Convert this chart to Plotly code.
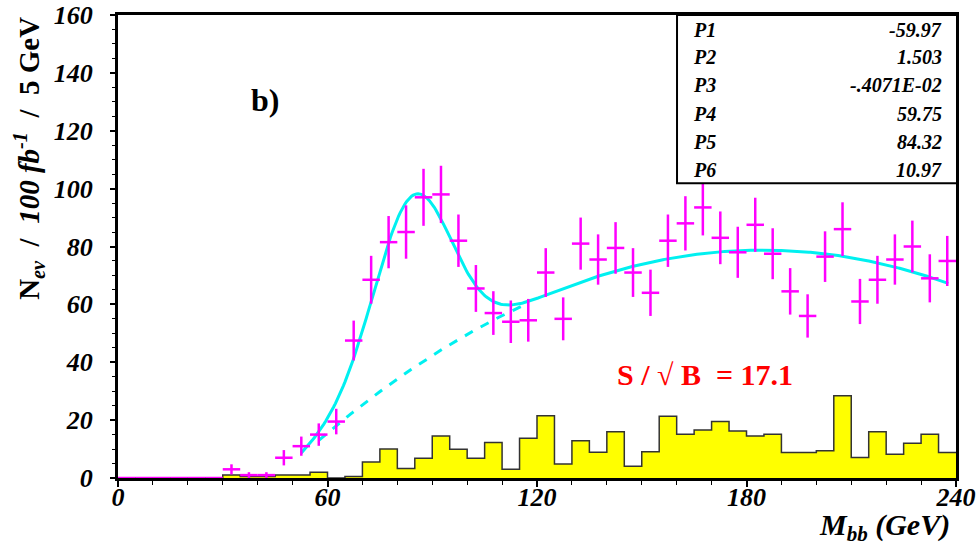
import numpy as np
import plotly.graph_objects as go

# ---------------- data ----------------
bin_centers = [2.5 + 5 * i for i in range(48)]
data_vals = [0, 0, 0, 0, 0, 0, 3, 1, 1, 7, 11, 15, 19.5, 47.5, 68.5, 81.5,
             85, 97, 98, 82, 65.5, 57, 54, 54.5, 71, 55, 81, 75.5, 79.5, 71,
             64, 82, 88, 93.5, 83, 78, 87.5, 77.5, 64.5, 56, 76.5, 86, 61,
             68.5, 75.5, 80, 69, 75]

bin_edges = [5 * i for i in range(49)]
hist_vals = [0, 0, 0, 0, 0, 0, 1, 0.5, 0.5, 1, 1, 2, 0, 0.5, 5.5, 10,
             3.3, 6.8, 14.5, 9.9, 6.8, 12.3, 3, 13.7, 21.5, 4.8, 12.9, 8.9,
             16, 4.1, 9.1, 21.3, 15.1, 16.6, 19.5, 16.2, 14.5, 15.1, 8.8, 8.8,
             9.4, 28.4, 7.1, 16, 8.2, 12, 15.1, 8.8]

x_ticks = [0, 60, 120, 180, 240]
y_ticks = [0, 20, 40, 60, 80, 100, 120, 140, 160]

par_names = ["P1", "P2", "P3", "P4", "P5", "P6"]
par_labels = ["-59.97", "1.503", "-.4071E-02", "59.75", "84.32", "10.97"]
par_values = [-59.97, 1.503, -0.4071e-02, 59.75, 84.32, 10.97]

fit_range = [52.5, 237.8]
bg_range = [57.5, 117.0]

# ---------------- fit functions ----------------
P1, P2, P3, P4, P5, P6 = par_values


def bg(x):
    return P1 + P2 * x + P3 * x ** 2


def full(x):
    return bg(x) + P4 * np.exp(-0.5 * ((x - P5) / P6) ** 2)


xf = np.linspace(fit_range[0], fit_range[1], 400)
xb = np.linspace(bg_range[0], bg_range[1], 200)

SERIF = "Liberation Serif, Times New Roman, serif"
MAG = "#ff00ff"
CYAN = "#00f0f0"

fig = go.Figure()

# histogram (step)
hx = bin_edges
hy = hist_vals + [hist_vals[-1]]
fig.add_trace(go.Scatter(x=hx, y=hy, mode="lines", line_shape="hv",
                         fill="tozeroy", fillcolor="#ffff00",
                         line=dict(color="#333333", width=1.5),
                         hoverinfo="skip", showlegend=False))

# background dashed
fig.add_trace(go.Scatter(x=xb, y=bg(xb), mode="lines",
                         line=dict(color=CYAN, width=3, dash="dash"),
                         showlegend=False))
# full fit
fig.add_trace(go.Scatter(x=xf, y=full(xf), mode="lines",
                         line=dict(color=CYAN, width=3),
                         showlegend=False))

# data with error crosses
errs = np.sqrt(np.array(data_vals, dtype=float))
fig.add_trace(go.Scatter(x=bin_centers, y=data_vals, mode="markers",
                         marker=dict(size=1, color=MAG),
                         error_y=dict(type="data", array=errs, color=MAG,
                                      thickness=2.5, width=0),
                         error_x=dict(type="constant", value=2.5, color=MAG,
                                      thickness=2.5, width=0),
                         showlegend=False))

# stats box
shapes = [dict(type="rect", xref="x", yref="y", x0=160.1, x1=240.5,
               y0=101.9, y1=160, fillcolor="white",
               line=dict(color="black", width=2), layer="above")]

annotations = []
row_y = [154.8, 145.4, 135.8, 125.8, 116.1, 106.4]
for name, lab, yy in zip(par_names, par_labels, row_y):
    annotations.append(dict(x=164.0, y=yy, xref="x", yref="y", text="<b><i>%s</i></b>" % name,
                            showarrow=False, xanchor="left", yanchor="middle",
                            font=dict(family=SERIF, size=20, color="black")))
    annotations.append(dict(x=236.5, y=yy, xref="x", yref="y", text="<b><i>%s</i></b>" % lab,
                            showarrow=False, xanchor="right", yanchor="middle",
                            font=dict(family=SERIF, size=20, color="black")))

annotations.append(dict(x=42.1, y=130.6, xref="x", yref="y", text="<b>b)</b>",
                        showarrow=False, xanchor="center", yanchor="middle",
                        font=dict(family=SERIF, size=32, color="black")))
annotations.append(dict(x=168.1, y=35.6, xref="x", yref="y",
                        text="<b>S / \u221a B  = 17.1</b>",
                        showarrow=False, xanchor="center", yanchor="middle",
                        font=dict(family=SERIF, size=30, color="#ff0000")))
annotations.append(dict(x=-0.107, y=0.69, xref="paper", yref="paper",
                        text="<b>N<sub><i>ev</i></sub>  /  <i>100 fb<sup>-1</sup></i>  /  5 GeV</b>",
                        textangle=-90, showarrow=False, xanchor="center", yanchor="middle",
                        font=dict(family=SERIF, size=29, color="black")))
annotations.append(dict(x=0.995, y=-0.106, xref="paper", yref="paper",
                        text="<b><i>M<sub>bb</sub> (GeV)</i></b>",
                        showarrow=False, xanchor="right", yanchor="middle",
                        font=dict(family=SERIF, size=30, color="black")))

fig.update_layout(
    width=980, height=552,
    margin=dict(l=118, r=24, t=15, b=74),
    paper_bgcolor="white", plot_bgcolor="white",
    shapes=shapes, annotations=annotations,
    showlegend=False,
)
fig.update_xaxes(range=[0, 240], tickmode="array", tickvals=x_ticks,
                 ticktext=["<b><i>%d</i></b>" % v for v in x_ticks],
                 ticks="outside", ticklen=6, tickwidth=1.5, tickcolor="black",
                 minor=dict(dtick=10, tick0=0, ticks="outside", ticklen=4,
                            tickcolor="black", tickwidth=1),
                 showline=True, linecolor="black", linewidth=3, mirror=True,
                 showgrid=False, zeroline=False, automargin=False,
                 tickfont=dict(family=SERIF, size=26, color="black"),
                 ticklabelstandoff=-12)
fig.update_yaxes(range=[0, 160], tickmode="array", tickvals=y_ticks,
                 ticktext=["<b><i>%d</i></b>" % v for v in y_ticks],
                 ticks="outside", ticklen=5, tickwidth=1.5, tickcolor="black",
                 minor=dict(dtick=5, tick0=0, ticks="outside", ticklen=3,
                            tickcolor="black", tickwidth=1),
                 showline=True, linecolor="black", linewidth=3, mirror=True,
                 showgrid=False, zeroline=False, automargin=False,
                 tickfont=dict(family=SERIF, size=26, color="black"),
                 ticklabelstandoff=12)

fig.write_html("out.html")
